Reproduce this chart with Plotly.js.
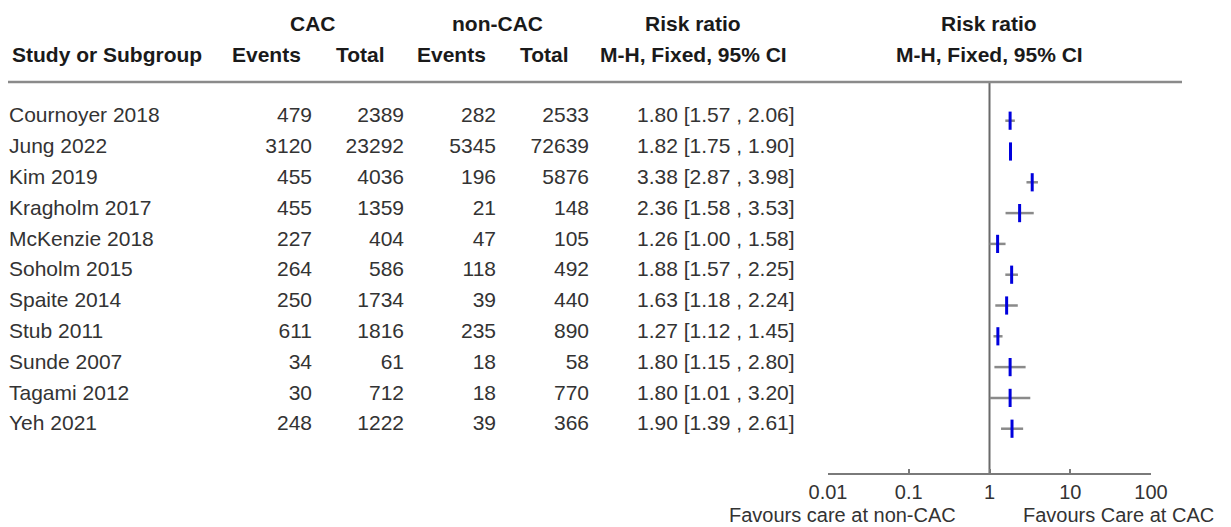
<!DOCTYPE html>
<html><head><meta charset="utf-8">
<script src="https://cdn.plot.ly/plotly-3.0.1.min.js"></script>
<style>html,body{margin:0;padding:0;background:#fff;} #chart{width:1231px;height:527px;}</style>
</head><body><div id="chart"></div>
<script>
// ---------- data ----------
const studies = ['Cournoyer 2018','Jung 2022','Kim 2019','Kragholm 2017','McKenzie 2018','Soholm 2015','Spaite 2014','Stub 2011','Sunde 2007','Tagami 2012','Yeh 2021'];
const cacEvents = [479,3120,455,455,227,264,250,611,34,30,248];
const cacTotal  = [2389,23292,4036,1359,404,586,1734,1816,61,712,1222];
const nonEvents = [282,5345,196,21,47,118,39,235,18,18,39];
const nonTotal  = [2533,72639,5876,148,105,492,440,890,58,770,366];
const rr     = [1.80,1.82,3.38,2.36,1.26,1.88,1.63,1.27,1.80,1.80,1.90];
const rrLow  = [1.57,1.75,2.87,1.58,1.00,1.57,1.18,1.12,1.15,1.01,1.39];
const rrHigh = [2.06,1.90,3.98,3.53,1.58,2.25,2.24,1.45,2.80,3.20,2.61];
const tickVals = [0.01,0.1,1,10,100];
const tickText = ['0.01','0.1','1','10','100'];
const headerTop = ['CAC','non-CAC','Risk ratio','Risk ratio'];
const headerSub = ['Study or Subgroup','Events','Total','Events','Total','M-H, Fixed, 95% CI','M-H, Fixed, 95% CI'];
const favLeft = 'Favours care at non-CAC';
const favRight = 'Favours Care at CAC';

// ---------- layout geometry ----------
const W = 1231, H = 527;
const FONT = 'Liberation Sans, Arial, Helvetica, sans-serif';
const TXT = '#333333';
const GREY = '#7a7a7a';
const yTop = -1.256, yBottom = 11.438;       // row units: top = header rule, bottom = axis line
const yDomain = [1 - 473/H, 1 - 82/H];
const textShift = 0.114;                      // table text sits slightly above the markers
const rows = studies.map((_, i) => i);
const colRight = [312, 404, 496, 589];        // right edges of numeric columns (px)
const nameLeft = 9, rrLeft = 637;
const headTopX = [312.5, 497.5, 693, 989];
const headSubX = [10, 266, 360, 451, 544, 693, 989];

const fmt = v => v.toFixed(2);
const rrText = rr.map((v, i) => `${fmt(v)} [${fmt(rrLow[i])} , ${fmt(rrHigh[i])}]`);

const textTrace = (x, text, pos) => ({
  type: 'scatter', mode: 'text', xaxis: 'x2', yaxis: 'y2',
  x: x, y: rows, text: text, textposition: pos, cliponaxis: false,
  textfont: {family: FONT, size: 21, color: TXT}, hoverinfo: 'skip'
});

const traces = [
  { // line of no effect
    type: 'scatter', mode: 'lines', x: [1, 1], y: [yTop, yBottom], xaxis: 'x', yaxis: 'y',
    line: {color: '#6a6a6a', width: 2}, cliponaxis: false, hoverinfo: 'skip'
  },
  { // study estimates with CIs
    type: 'scatter', mode: 'markers', x: rr, y: rows, xaxis: 'x', yaxis: 'y', cliponaxis: false,
    marker: {symbol: 'line-ns', size: 13, line: {width: 3, color: '#0000dd'}, color: '#0000dd'},
    error_x: {type: 'data', symmetric: false,
      array: rr.map((v, i) => rrHigh[i] - v), arrayminus: rr.map((v, i) => v - rrLow[i]),
      width: 0, thickness: 2.5, color: '#8a8a8a'}
  },
  textTrace(rows.map(() => nameLeft), studies, 'middle right'),
  textTrace(rows.map(() => colRight[0]), cacEvents.map(String), 'middle left'),
  textTrace(rows.map(() => colRight[1]), cacTotal.map(String), 'middle left'),
  textTrace(rows.map(() => colRight[2]), nonEvents.map(String), 'middle left'),
  textTrace(rows.map(() => colRight[3]), nonTotal.map(String), 'middle left'),
  textTrace(rows.map(() => rrLeft), rrText, 'middle right')
];

const annotations = [];
headerTop.forEach((t, i) => annotations.push({
  xref: 'paper', yref: 'paper', x: headTopX[i] / W, y: 1 - 24 / H, xanchor: 'center', yanchor: 'middle',
  text: '<b>' + t + '</b>', showarrow: false, font: {family: FONT, size: 21, color: '#1a1a1a'}
}));
headerSub.forEach((t, i) => annotations.push({
  xref: 'paper', yref: 'paper', x: headSubX[i] / W, y: 1 - 54.5 / H, xanchor: i === 0 ? 'left' : 'center', yanchor: 'middle',
  text: '<b>' + t + '</b>', showarrow: false, font: {family: FONT, size: 21, color: '#1a1a1a'}
}));
annotations.push({xref: 'paper', yref: 'paper', x: 957 / W, y: 0, xanchor: 'right', yanchor: 'bottom',
  text: favLeft, showarrow: false, borderpad: 0, font: {family: FONT, size: 20, color: TXT}});
annotations.push({xref: 'paper', yref: 'paper', x: 1022 / W, y: 0, xanchor: 'left', yanchor: 'bottom',
  text: favRight, showarrow: false, borderpad: 0, font: {family: FONT, size: 20, color: TXT}});

const forestDomain = [828 / W, 1151 / W];
const layout = {
  width: W, height: H, margin: {l: 0, r: 0, t: 0, b: 0},
  paper_bgcolor: '#ffffff', plot_bgcolor: 'rgba(0,0,0,0)', showlegend: false,
  font: {family: FONT, size: 21, color: TXT},
  xaxis: {type: 'log', range: [-2, 2], domain: forestDomain, anchor: 'y',
    showline: true, linecolor: GREY, linewidth: 2, ticks: 'inside', ticklen: 4, tickwidth: 2, tickcolor: GREY,
    tickmode: 'array', tickvals: tickVals, ticktext: tickText, showgrid: false, zeroline: false,
    tickfont: {family: FONT, size: 20, color: TXT}, fixedrange: true},
  xaxis3: {type: 'log', range: [-2, 2], domain: forestDomain, anchor: 'y', overlaying: 'x',
    showline: false, ticks: 'outside', ticklen: 4, tickwidth: 2, tickcolor: GREY,
    tickmode: 'array', tickvals: tickVals, showticklabels: false, showgrid: false, zeroline: false},
  yaxis: {domain: yDomain, range: [yBottom, yTop], visible: false, fixedrange: true},
  xaxis2: {domain: [0, 1], range: [0, W], visible: false, anchor: 'y2', fixedrange: true},
  yaxis2: {domain: yDomain, range: [yBottom + textShift, yTop + textShift], visible: false, anchor: 'x2', fixedrange: true},
  shapes: [{type: 'line', xref: 'paper', yref: 'paper', x0: 8 / W, x1: 1182 / W, y0: 1 - 82 / H, y1: 1 - 82 / H,
    line: {color: '#8a8a8a', width: 2.5}}],
  annotations: annotations
};

Plotly.newPlot('chart', traces, layout, {staticPlot: true, displayModeBar: false});
</script>
</body></html>
